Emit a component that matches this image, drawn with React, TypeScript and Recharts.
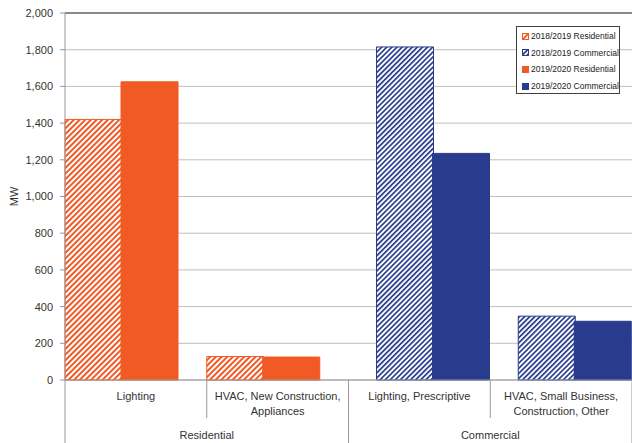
import React from 'react';
import { BarChart, Bar, XAxis, YAxis, CartesianGrid, Legend, ReferenceLine } from 'recharts';

// ---- data ----
const CATEGORIES = [
  'Lighting',
  'HVAC, New Construction, Appliances',
  'Lighting, Prescriptive',
  'HVAC, Small Business, Construction, Other',
];
const CATEGORY_LINES = [
  ['Lighting'],
  ['HVAC, New Construction,', 'Appliances'],
  ['Lighting, Prescriptive'],
  ['HVAC, Small Business,', 'Construction, Other'],
];
const GROUPS = ['Residential', 'Residential', 'Commercial', 'Commercial'];
const RES_2018 = [1420, 128, null, null];
const COM_2018 = [null, null, 1815, 348];
const RES_2019 = [1625, 125, null, null];
const COM_2019 = [null, null, 1235, 320];
const Y_TICKS = [0, 200, 400, 600, 800, 1000, 1200, 1400, 1600, 1800, 2000];
const SERIES_NAMES = ['2018/2019 Residential', '2018/2019 Commercial', '2019/2020 Residential', '2019/2020 Commercial'];

const ORANGE = '#F15A24';
const BLUE = '#283B8C';
const FONT = '"Liberation Sans", Arial, sans-serif';

const data = CATEGORIES.map((c, i) => ({
  category: c,
  res2018: RES_2018[i],
  com2018: COM_2018[i],
  res2019: RES_2019[i],
  com2019: COM_2019[i],
}));

const SERIES = [
  { key: 'res2018', name: SERIES_NAMES[0], color: ORANGE, fill: 'url(#hatchOrange)' },
  { key: 'com2018', name: SERIES_NAMES[1], color: BLUE, fill: 'url(#hatchBlue)' },
  { key: 'res2019', name: SERIES_NAMES[2], color: ORANGE, fill: ORANGE },
  { key: 'com2019', name: SERIES_NAMES[3], color: BLUE, fill: BLUE },
];

const W = 632;
const H = 443;
const Y_AXIS_W = 65;
const MARGIN = { top: 13, right: 0, bottom: 0, left: 0 };
const BAND = (W - Y_AXIS_W - MARGIN.left - MARGIN.right) / CATEGORIES.length;

const CategoryTick = (props: any) => {
  const { x, y, index } = props;
  const lines = CATEGORY_LINES[index] || [];
  const half = BAND / 2;
  const groupStart = index === 0 || GROUPS[index] !== GROUPS[index - 1];
  const els: any[] = [];
  els.push(
    <line key="sep" x1={x - half} x2={x - half} y1={y} y2={groupStart ? H : y + 38} stroke="#999" strokeWidth={1} />
  );
  if (index === CATEGORIES.length - 1) {
    els.push(<line key="sepR" x1={x + half} x2={x + half} y1={y} y2={H} stroke="#999" strokeWidth={1} />);
  }
  lines.forEach((l, i) => {
    els.push(
      <text key={'l' + i} x={x} y={y + 20 + i * 15} textAnchor="middle" fontSize={11} fontFamily={FONT} fill="#333">
        {l}
      </text>
    );
  });
  if (groupStart) {
    let n = 0;
    for (let j = index; j < GROUPS.length && GROUPS[j] === GROUPS[index]; j++) n++;
    els.push(
      <text key="grp" x={x + ((n - 1) * BAND) / 2} y={y + 59} textAnchor="middle" fontSize={11} fontFamily={FONT} fill="#333">
        {GROUPS[index]}
      </text>
    );
  }
  return <g>{els}</g>;
};

const LegendBox = () => (
  <div
    style={{
      border: '1px solid #404040',
      background: '#fff',
      width: 104,
      height: 68,
      paddingTop: 1,
      boxSizing: 'border-box',
      fontFamily: FONT,
      fontSize: 8.5,
      color: '#222',
      lineHeight: 1,
    }}
  >
    {SERIES.map((s, i) => (
      <div key={i} style={{ display: 'flex', alignItems: 'center', height: 16.6, paddingLeft: 5, whiteSpace: 'nowrap' }}>
        <svg width={7} height={7} style={{ marginRight: 2, flex: 'none' }}>
          <rect x={0.5} y={0.5} width={6} height={6} fill={s.fill} stroke={s.color} strokeWidth={1} />
        </svg>
        <span>{s.name}</span>
      </div>
    ))}
  </div>
);

export default function App() {
  return (
    <div style={{ position: 'absolute', left: 0, top: 0, width: W, height: H, background: '#fff' }}>
      <svg width={0} height={0} style={{ position: 'absolute' }}>
        <defs>
          <pattern id="hatchOrange" patternUnits="userSpaceOnUse" width={4} height={4} patternTransform="rotate(45)">
            <rect x={0} y={0} width={4} height={4} fill="#fff" />
            <rect x={0} y={0} width={2} height={4} fill={ORANGE} />
          </pattern>
          <pattern id="hatchBlue" patternUnits="userSpaceOnUse" width={3.6} height={3.6} patternTransform="rotate(45)">
            <rect x={0} y={0} width={3.6} height={3.6} fill="#fff" />
            <rect x={0} y={0} width={1.7} height={3.6} fill={BLUE} />
          </pattern>
        </defs>
      </svg>
      <BarChart width={W} height={H} data={data} margin={MARGIN} barCategoryGap={0} barGap={-29}>
        <CartesianGrid horizontal vertical={false} stroke="#BFBFBF" />
        <XAxis
          dataKey="category"
          height={63}
          interval={0}
          tickSize={0}
          tickMargin={0}
          tickLine={false}
          axisLine={{ stroke: '#999' }}
          tick={<CategoryTick />}
        />
        <YAxis
          width={Y_AXIS_W}
          domain={[0, 2000]}
          ticks={Y_TICKS}
          interval={0}
          tickSize={5}
          tickMargin={7}
          axisLine={{ stroke: '#999' }}
          tickLine={{ stroke: '#999' }}
          tick={{ fontSize: 11, fontFamily: FONT, fill: '#333' }}
          tickFormatter={(v: number) => v.toLocaleString('en-US')}
          label={{ value: 'MW', angle: -90, position: 'insideLeft', offset: 14, style: { fontSize: 11, fontFamily: FONT, fill: '#333', textAnchor: 'middle' } }}
        />
        <ReferenceLine y={2000} stroke="#333" strokeWidth={1} />
        {SERIES.map((s) => (
          <Bar
            key={s.key}
            dataKey={s.key}
            name={s.name}
            fill={s.fill}
            stroke={s.color}
            strokeWidth={1}
            isAnimationActive={false}
          />
        ))}
        <Legend
          layout="horizontal"
          verticalAlign="middle"
          align="center"
          content={<LegendBox />}
          wrapperStyle={{ top: 26, left: 516, width: 106, height: 70, margin: 0 }}
        />
      </BarChart>
    </div>
  );
}
